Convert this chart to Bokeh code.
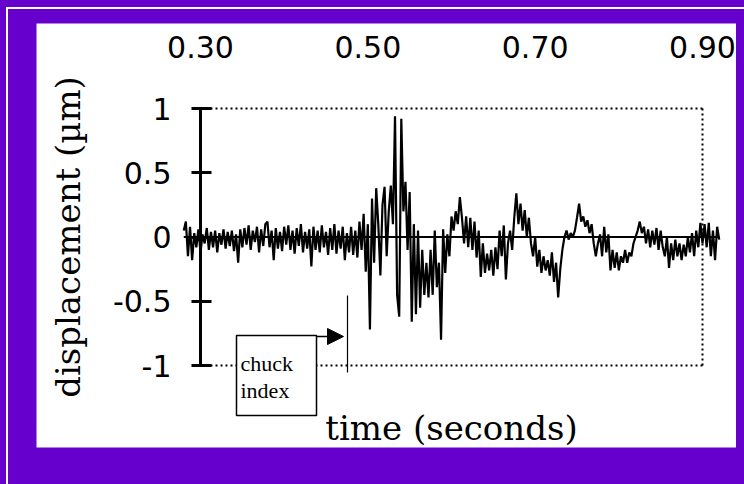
import numpy as np
from bokeh.plotting import figure
from bokeh.models import (LinearAxis, FixedTicker, CustomJSTickFormatter, Range1d,
                          Arrow, NormalHead)
from bokeh.embed import file_html
from bokeh.resources import INLINE
from bokeh.core.properties import value

# ---------------- data ----------------
displacement = [
    0.05, 0.12, -0.15, 0.08, -0.18, 0.03, -0.08, 0.06, -0.12, 0.02,
    -0.05, 0.07, -0.10, 0.04, -0.08, 0.05, -0.12, 0.03, -0.06, 0.06,
    -0.09, 0.04, -0.07, 0.05, -0.11, 0.02, -0.20, 0.06, -0.08, 0.07,
    -0.06, 0.09, -0.10, 0.05, -0.04, 0.08, -0.12, 0.06, -0.07, 0.10,
    0.12, -0.08, 0.05, -0.18, 0.07, -0.09, 0.04, -0.11, 0.08, -0.06,
    0.09, -0.10, 0.05, -0.13, 0.07, -0.07, 0.10, -0.12, 0.04, -0.09,
    0.06, -0.23, 0.08, -0.10, 0.05, -0.12, 0.09, -0.08, 0.04, -0.14,
    0.07, -0.10, 0.10, -0.13, 0.05, -0.09, 0.08, -0.18, 0.03, -0.12,
    0.08, -0.14, 0.05, -0.16, 0.12, -0.10, 0.18, -0.27, 0.10, -0.72,
    0.30, -0.20, 0.38, 0.10, -0.30, 0.25, 0.39, -0.15, 0.20, 0.40,
    0.10, 0.94, -0.45, -0.62, 0.92, 0.20, 0.43, -0.10, 0.35, -0.66,
    0.10, -0.60, 0.05, -0.55, -0.10, -0.45, -0.20, -0.47, -0.10, -0.45,
    0.05, -0.39, -0.20, -0.80, 0.06, -0.28, 0.02, -0.15, 0.16, 0.05,
    0.20, 0.10, 0.31, 0.15, -0.05, 0.16, -0.08, 0.15, -0.10, 0.12,
    -0.16, 0.05, -0.31, -0.05, -0.28, -0.13, -0.26, -0.10, -0.30, -0.08,
    -0.25, 0.05, -0.15, 0.09, -0.33, -0.05, 0.05, -0.10, 0.15, 0.34,
    0.10, 0.26, 0.05, 0.21, 0.00, 0.15, -0.05, -0.15, 0.00, -0.23,
    -0.10, -0.28, -0.15, -0.26, -0.18, -0.30, -0.12, -0.35, -0.20, -0.47,
    -0.25, -0.10, 0.00, 0.05, -0.02, 0.03, 0.00, 0.05, 0.15, 0.26,
    0.12, 0.16, 0.08, 0.13, 0.03, 0.10, -0.05, -0.15, -0.05, 0.02,
    -0.15, 0.08, -0.12, 0.02, -0.26, -0.10, -0.24, -0.12, -0.26, -0.15,
    -0.20, -0.10, -0.20, -0.12, -0.15, -0.05, 0.00, 0.05, 0.12, 0.03,
    0.08, -0.05, 0.06, -0.08, 0.05, -0.06, 0.07, -0.10, 0.05, -0.08,
    -0.15, 0.00, -0.24, -0.05, -0.18, -0.02, -0.15, -0.05, -0.18, -0.06,
    -0.15, 0.00, -0.12, 0.03, -0.15, 0.05, -0.08, 0.11, -0.05, 0.10,
    -0.08, 0.11, -0.15, 0.05, -0.18, 0.08, -0.02,
]
T_START = 0.28          # s, first sample
T_STEP = 0.0025         # s, sampling interval
time = [round(T_START + i * T_STEP, 5) for i in range(len(displacement))]

time_ticks = [0.30, 0.50, 0.70, 0.90]
time_tick_labels = ["0.30", "0.50", "0.70", "0.90"]
disp_ticks = [-1, -0.5, 0, 0.5, 1]
disp_tick_labels = ["-1", "-0.5", "0", "0.5", "1"]
T_MIN, T_MAX = 0.30, 0.90
D_MIN, D_MAX = -1.0, 1.0
chuck_time = 0.4757
chuck_labels = ["chuck", "index"]

# ---------------- layout (page pixels -> data) ----------------
PURPLE = "#6600cc"
PX_T0, PX_T1 = 200.0, 702.0      # page x of T_MIN, T_MAX
PX_D1, PX_D0 = 108.0, 365.0      # page y of D_MAX, D_MIN
FIG_X, FIG_Y = 8, 9              # page position of figure
FRAME_L, FRAME_R, FRAME_T, FRAME_B = 36, 736, 23, 447
W, H = 728, 468

kx = (PX_T1 - PX_T0) / (T_MAX - T_MIN)
ky = (PX_D0 - PX_D1) / (D_MAX - D_MIN)
ymid = (PX_D0 + PX_D1) / 2


def tx(px):
    return T_MIN + (px - PX_T0) / kx


def vy(py):
    return (ymid - py) / ky


p = figure(width=W, height=H,
           x_range=Range1d(tx(FRAME_L), tx(FRAME_R)),
           y_range=Range1d(vy(FRAME_B), vy(FRAME_T)),
           x_axis_location=None, y_axis_location=None,
           toolbar_location=None, output_backend="svg",
           min_border_left=FRAME_L - FIG_X, min_border_right=FIG_X + W - FRAME_R,
           min_border_top=FRAME_T - FIG_Y, min_border_bottom=FIG_Y + H - FRAME_B,
           background_fill_color="white", border_fill_color=PURPLE,
           outline_line_color=None, title=None)
p.grid.visible = False


def fmt(tick_values, tick_labels):
    return CustomJSTickFormatter(args=dict(tvals=tick_values, tlabs=tick_labels), code="""
        for (let i = 0; i < tvals.length; i++) {
            if (Math.abs(tvals[i] - tick) < 1e-9) return tlabs[i];
        }
        return '';
    """)


TICK_FONT = "DejaVu Sans"
LABEL_FONT = "DejaVu Serif"

# left (solid) displacement axis at t = 0.30
yax = LinearAxis(fixed_location=T_MIN, bounds=(D_MIN, D_MAX),
                 ticker=FixedTicker(ticks=disp_ticks),
                 formatter=fmt(disp_ticks, disp_tick_labels),
                 axis_line_width=3, axis_line_color="black",
                 major_tick_in=11, major_tick_out=9, major_tick_line_width=3,
                 major_tick_line_color="black", minor_tick_line_color=None,
                 major_label_standoff=20,
                 major_label_text_font=TICK_FONT, major_label_text_font_size="30px",
                 major_label_text_color="black",
                 axis_label="displacement (\u00b5m)", axis_label_standoff=22,
                 axis_label_text_font=LABEL_FONT, axis_label_text_font_size="34px",
                 axis_label_text_font_style="normal", axis_label_text_color="black")
p.add_layout(yax, "left")

# top dotted axis carrying the time tick labels
tax = LinearAxis(fixed_location=D_MAX, bounds=(T_MIN, T_MAX),
                 ticker=FixedTicker(ticks=time_ticks),
                 formatter=fmt(time_ticks, time_tick_labels),
                 axis_line_width=2, axis_line_color="black", axis_line_dash="2 3",
                 major_tick_line_color=None, minor_tick_line_color=None,
                 major_tick_in=0, major_tick_out=0,
                 major_label_standoff=51,
                 major_label_text_font=TICK_FONT, major_label_text_font_size="30px",
                 major_label_text_color="black")
p.add_layout(tax, "above")

# bottom dotted axis with the time label
bax = LinearAxis(fixed_location=D_MIN, bounds=(T_MIN, T_MAX),
                 ticker=FixedTicker(ticks=[]),
                 axis_line_width=2, axis_line_color="black", axis_line_dash="2 3",
                 major_tick_line_color=None, minor_tick_line_color=None,
                 major_tick_in=0, major_tick_out=0, major_label_standoff=0,
                 axis_label="time (seconds)", axis_label_standoff=42,
                 axis_label_text_font=LABEL_FONT, axis_label_text_font_size="34px",
                 axis_label_text_font_style="normal", axis_label_text_color="black")
p.add_layout(bax, "below")

# right dotted axis
rax = LinearAxis(fixed_location=T_MAX, bounds=(D_MIN, D_MAX),
                 ticker=FixedTicker(ticks=[]),
                 axis_line_width=2, axis_line_color="black", axis_line_dash="2 3",
                 major_tick_line_color=None, minor_tick_line_color=None,
                 major_tick_in=0, major_tick_out=0, major_label_standoff=0)
p.add_layout(rax, "right")

# zero line and signal
p.segment(x0=[time[0]], x1=[time[-1]], y0=[0], y1=[0], line_color="black", line_width=2)
p.line(time, displacement, line_color="black", line_width=2.2)

# chuck index marker
p.segment(x0=[chuck_time], x1=[chuck_time], y0=[vy(295)], y1=[vy(372)],
          line_color="black", line_width=1.2, level="overlay")
box_l, box_r, box_t, box_b = tx(236), tx(316), vy(335), vy(415)
p.quad(left=[box_l], right=[box_r], top=[box_t], bottom=[box_b],
       fill_color="white", line_color="black", line_width=1.5, level="overlay")
p.text(x=[tx(240), tx(240)], y=[vy(363), vy(390)], text=chuck_labels,
       text_font=value("Liberation Serif"), text_font_size="22px",
       text_color="black", text_baseline="alphabetic", text_align="left",
       level="overlay")
p.add_layout(Arrow(end=NormalHead(size=16, fill_color="black", line_color="black"),
                   x_start=box_r, y_start=vy(336), x_end=tx(343), y_end=vy(336),
                   line_color="black", line_width=1.5))

html = file_html(p, INLINE, title="displacement")
css = ("<style>html{background:%s}body{margin:7px 0 0 6px;min-height:474px;"
       "border-top:2px solid #fff;border-left:2px solid #fff}</style></head>" % PURPLE)
html = html.replace("</head>", css, 1)
open("out.html", "w").write(html)
